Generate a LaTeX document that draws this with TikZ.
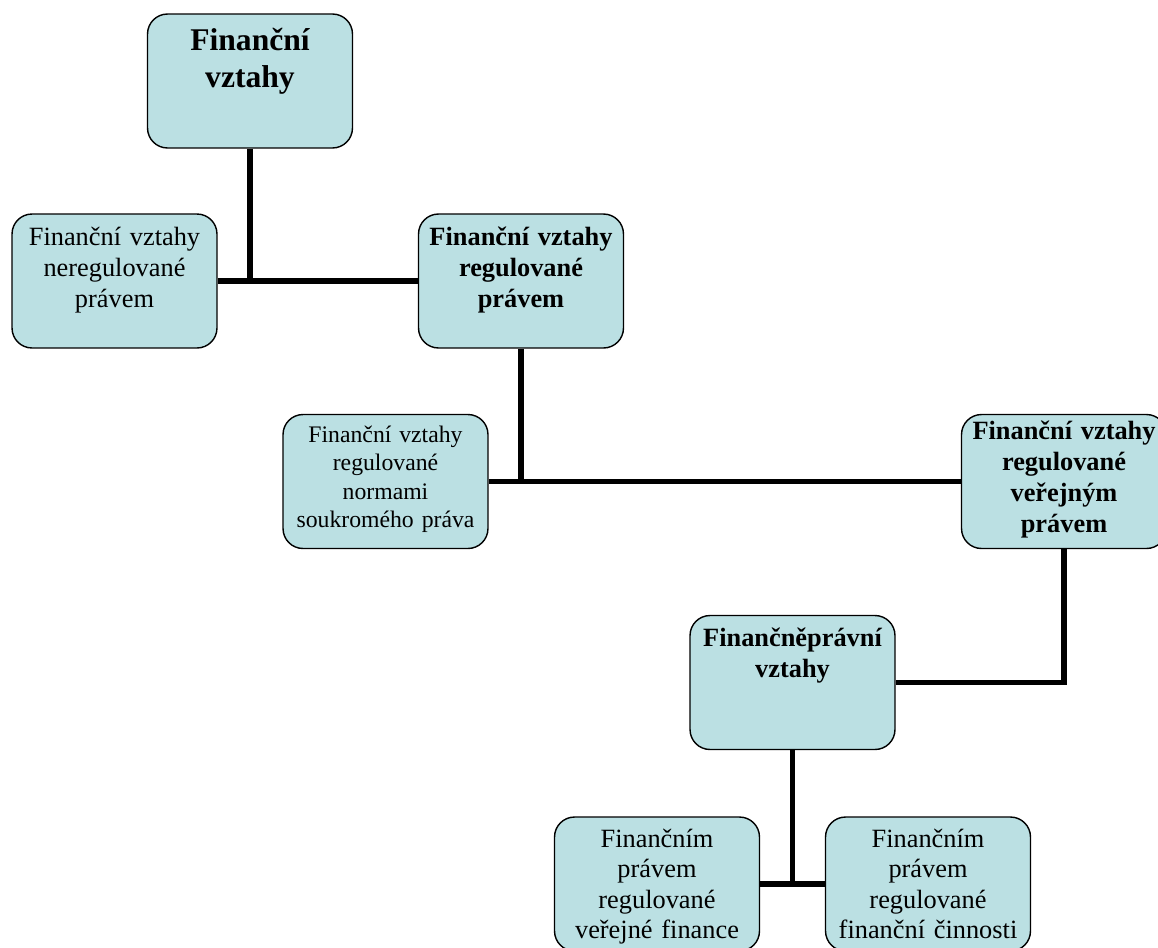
\documentclass[tikz,border=0pt]{standalone}
\usepackage{fontspec}
\setmainfont{Liberation Serif}
\definecolor{vypln}{RGB}{187,224,227}

\begin{document}
\begin{tikzpicture}[x=0.02cm,y=-0.02cm,
  vztah/.style={draw,line width=0.8pt,fill=vypln,rounded corners=0.4cm,inner sep=0pt,
    text width=4.1cm,align=center,text height=0.62cm,text depth=2.06cm,
    font=\fontsize{15}{17.8}\selectfont},
  tucne/.style={font=\fontsize{15}{17.8}\selectfont\bfseries},
  spoj/.style={line width=3.2pt}]
  \path [use as bounding box,clip] (0,0) rectangle (1158,947);
  \node [vztah,font=\fontsize{18}{21.5}\selectfont\bfseries,
    text height=0.72cm,text depth=1.96cm] (fv) at (250,81) {Finanční\\vztahy};
  \node [vztah] (nereg) at (114.5,281) {Finanční vztahy\\neregulované\\právem};
  \node [vztah,tucne] (reg) at (521,281) {Finanční vztahy\\regulované\\právem};
  \node [vztah,font=\fontsize{13.5}{16.2}\selectfont,
    text height=0.56cm,text depth=2.12cm] (soukr) at (385.5,481.5)
    {Finanční vztahy\\regulované\\normami\\soukromého práva};
  \node [vztah,font=\fontsize{15}{17.6}\selectfont\bfseries,
    text height=0.5cm,text depth=2.18cm] (verej) at (1064,481.5)
    {Finanční vztahy\\regulované\\veřejným\\právem};
  \node [vztah,tucne] (fp) at (792.5,682.5) {Finančněprávní\\vztahy};
  \node [vztah,font=\fontsize{15}{17.4}\selectfont,
    text height=0.6cm,text depth=2.08cm] (vf) at (657,884)
    {Finančním\\právem\\regulované\\veřejné finance};
  \node [vztah,font=\fontsize{15}{17.4}\selectfont,
    text height=0.6cm,text depth=2.08cm] (fc) at (928,884)
    {Finančním\\právem\\regulované\\finanční činnosti};

  \draw [spoj] (fv.south) -- (fv.south |- nereg.east);
  \draw [spoj] (nereg.east) -- (reg.west);
  \draw [spoj] (reg.south) -- (reg.south |- soukr.east);
  \draw [spoj] (soukr.east) -- (verej.west);
  \draw [spoj] (verej.south) |- (fp.east);
  \draw [spoj] (fp.south) -- (fp.south |- vf.east);
  \draw [spoj] (vf.east) -- (fc.west);
\end{tikzpicture}
\end{document}
